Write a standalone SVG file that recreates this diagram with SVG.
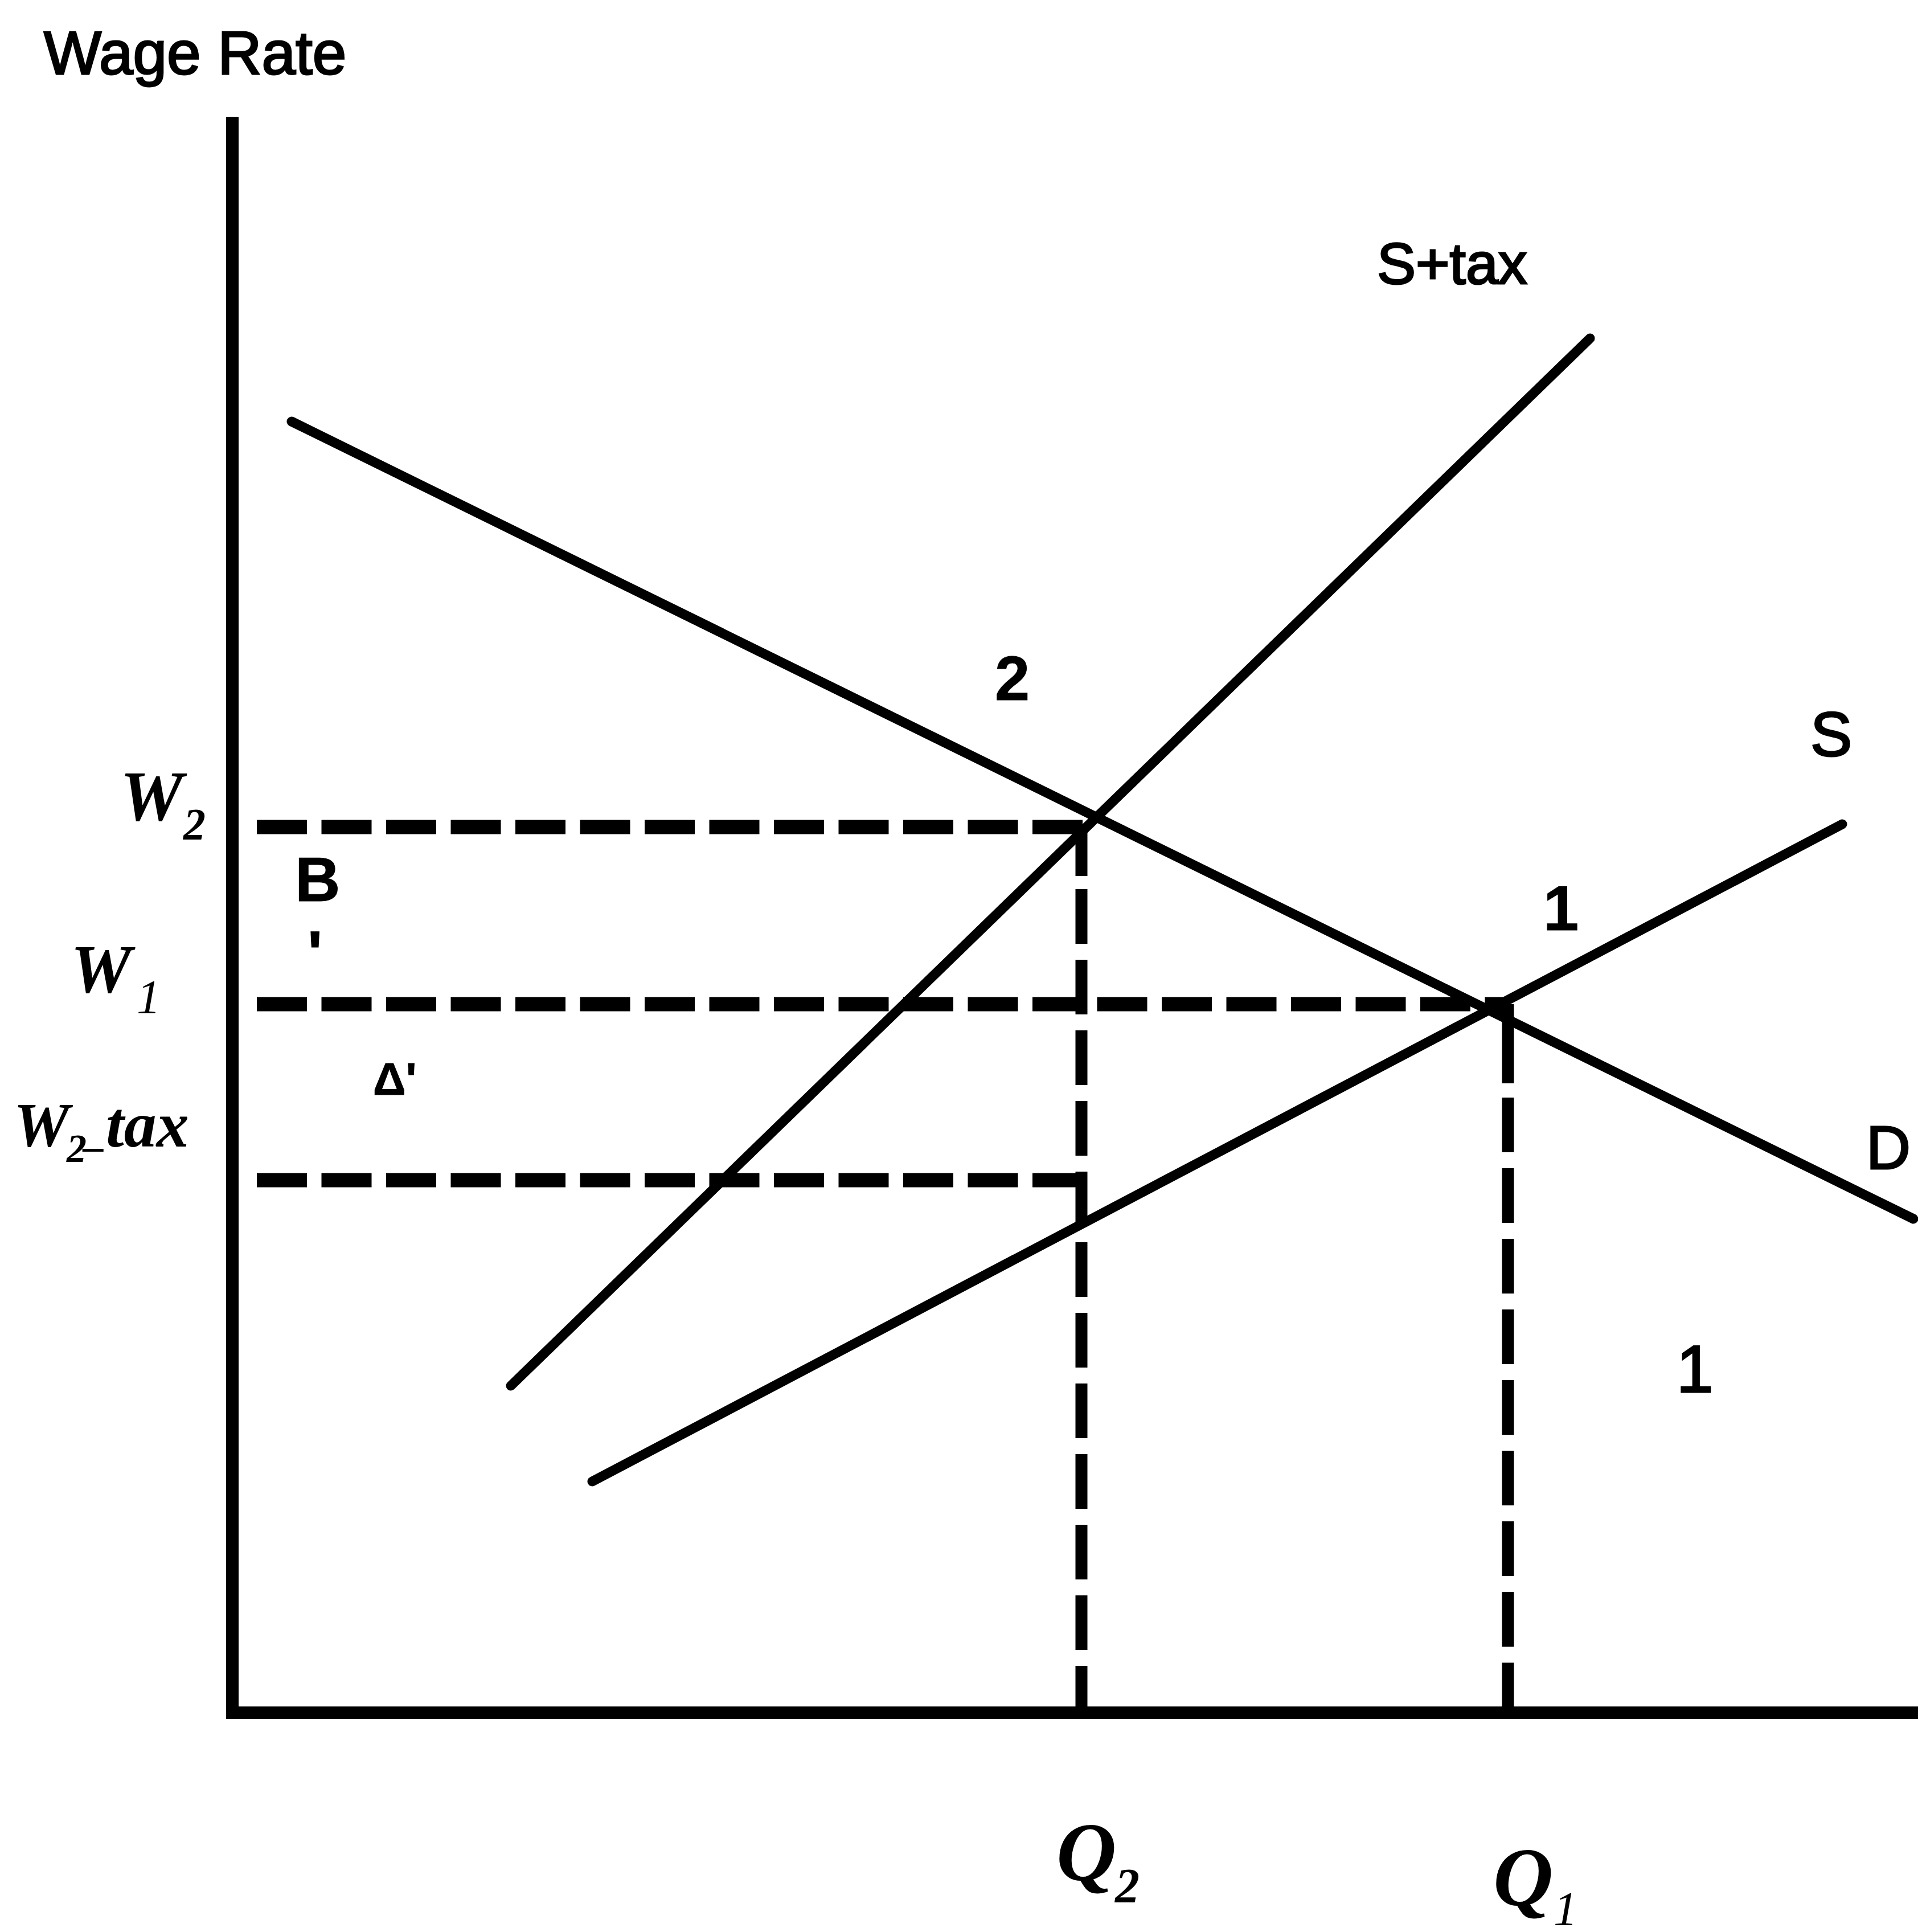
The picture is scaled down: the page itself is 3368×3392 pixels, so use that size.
<svg xmlns="http://www.w3.org/2000/svg" width="3368" height="3392" viewBox="0 0 3368 3392">
<style>
.ax{stroke:#000;stroke-width:22;fill:none}
.cv{stroke:#000;stroke-width:17;fill:none;stroke-linecap:round}
.dh{stroke:#000;stroke-width:25;fill:none;stroke-dasharray:88 25.5}
.dv{stroke:#000;stroke-width:21;fill:none}
.sans{font-family:"Liberation Sans",Arial,sans-serif;fill:#000;stroke:#000;stroke-width:3}
.b{font-weight:bold;stroke-width:1}
.it{font-family:"Liberation Serif","Times New Roman",serif;font-style:italic;font-weight:bold;fill:#000}
.itr{font-family:"Liberation Serif","Times New Roman",serif;font-style:italic;fill:#000}
</style>
<rect width="3368" height="3392" fill="#fff"/>
<g id="axes">
<line class="ax" x1="408" y1="205" x2="408" y2="3018"/>
<line class="ax" x1="397" y1="3007" x2="3368" y2="3007"/>
</g>
<g id="connectors">
<line id="D" class="cv" x1="512" y1="740" x2="3360" y2="2140"/>
<line id="Stax" class="cv" x1="897" y1="2433" x2="2792" y2="594"/>
<line id="S" class="cv" x1="1040" y1="2601" x2="3235" y2="1447"/>
<line class="dh" x1="451" y1="1452" x2="1902" y2="1452"/>
<line class="dh" x1="451" y1="1763" x2="2642" y2="1763"/>
<line class="dh" x1="451" y1="2072" x2="1902" y2="2072"/>
<line class="dv" x1="1899" y1="1452" x2="1899" y2="3000" stroke-dasharray="86 23 96 28 96 28 96 28 96 28 96 28 96 28 96 28 96 28 96 28 96 28 96 28 96 28"/>
<line class="dv" x1="2648" y1="1763" x2="2648" y2="3000" stroke-dasharray="139 25 96 28 96 28 96 28 96 28 96 28 96 28 96 28 96 28 96 28 96 28"/>
</g>
<g id="labels">
<text id="ylabel" class="sans" x="77" y="130" font-size="107">Wage Rate</text>
<text id="l-stax" class="sans" x="2418" y="498" font-size="102">S+tax</text>
<text id="l-s" class="sans" x="3179" y="1327" font-size="110">S</text>
<text id="l-d" class="sans" x="3277" y="2052" font-size="108">D</text>
<text id="l-2" class="sans b" x="1747" y="1229" font-size="110">2</text>
<text id="l-1a" class="sans b" x="2710" y="1633" font-size="112">1</text>
<text id="l-1b" class="sans" x="2944" y="2444" font-size="116">1</text>
<text id="l-B" class="sans b" x="518" y="1582" font-size="110">B</text>
<text id="l-ap" class="sans b" x="540" y="1711" font-size="110">'</text>
<text id="l-A" class="sans b" x="655" y="1922" font-size="80">Δ'</text>
<text class="it" x="211" y="1440" font-size="124">W</text>
<text class="it" x="322" y="1473" font-size="78">2</text>
<text class="it" x="124" y="1742" font-size="120">W</text>
<text class="itr" x="240" y="1779" font-size="84">1</text>
<text class="it" x="24" y="2012" font-size="110">W</text>
<text class="it" x="117" y="2040" font-size="70">2</text>
<text class="it" x="150" y="2012" font-size="72">_</text>
<text class="it" x="186" y="2013" font-size="114">tax</text>
<text class="it" x="1855" y="3301" font-size="146">Q</text>
<text class="it" x="1958" y="3340" font-size="86">2</text>
<text class="it" x="2622" y="3345" font-size="146">Q</text>
<text class="itr" x="2728" y="3380" font-size="84">1</text>
</g>
</svg>
